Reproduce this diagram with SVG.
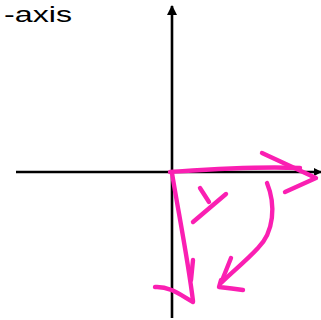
<svg xmlns="http://www.w3.org/2000/svg" width="321" height="320" viewBox="0 0 321 320">
<style>
.axis{stroke:#000;stroke-width:2.6;fill:none}
.ink{stroke:#fa1fb2;stroke-width:4.4;fill:none;stroke-linecap:round;stroke-linejoin:round}
.lbl{font-family:"Liberation Sans",Arial,sans-serif;font-size:22px;fill:#000}
</style>
<defs>
<marker id="ah" viewBox="0 0 10 10" refX="9" refY="5" markerWidth="4" markerHeight="4" orient="auto" markerUnits="strokeWidth">
<path d="M0,0 L10,5 L0,10 Z" fill="#000"/>
</marker>
<marker id="ahs" viewBox="0 0 10 10" refX="9" refY="5" markerWidth="3" markerHeight="3" orient="auto" markerUnits="strokeWidth">
<path d="M0,0 L10,5 L0,10 Z" fill="#000"/>
</marker>
</defs>
<rect width="321" height="320" fill="#fff"/>
<g id="label">
<text class="lbl" x="4" y="22" textLength="68" lengthAdjust="spacingAndGlyphs">-axis</text>
</g>
<g id="connectors">
<line class="axis" x1="172" y1="318" x2="172" y2="6" marker-end="url(#ah)"/>
<line class="axis" x1="16" y1="172" x2="321" y2="172" marker-end="url(#ahs)"/>
</g>
<g id="sketch">
<path class="ink" d="M170,172 C200,170 250,166 300,168"/>
<path class="ink" d="M262,153 L316,178 L285,192"/>
<path class="ink" d="M172,173 C178,210 188,260 193,301"/>
<path class="ink" d="M193,260 L191,280"/>
<path class="ink" d="M155,287 C170,286 182,296 193,302"/>
<path class="ink" d="M267,183 C276,205 274,232 258,248 C245,262 232,272 221,283"/>
<path class="ink" d="M231,258 L223,278"/>
<path class="ink" d="M221,280 L219,287 C228,288 236,289 243,290"/>
<path class="ink" d="M200,188 L209,202"/>
<path class="ink" d="M226,194 L193,222"/>
</g>
</svg>
